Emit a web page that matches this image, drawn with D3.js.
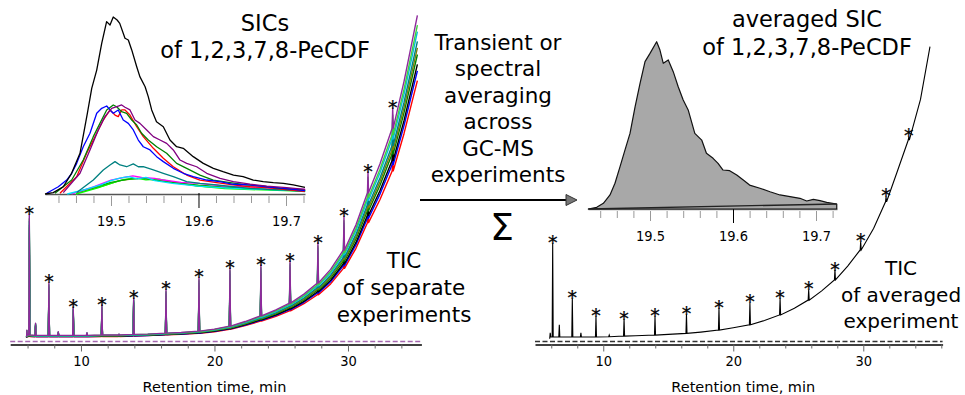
<!DOCTYPE html>
<html>
<head>
<meta charset="utf-8">
<script src="https://cdn.jsdelivr.net/npm/d3@7"></script>
<style>
  body { margin: 0; background: #fff; }
  text { font-family: "DejaVu Sans", Verdana, sans-serif; fill: #000; }
  .tick-label { font-family: "DejaVu Sans Condensed", "DejaVu Sans", sans-serif; }
</style>
</head>
<body>
<div id="chart"></div>
<script>
/* Axis ticks (minutes) */
let mainTicks = [6, 8, 10, 12, 14, 16, 18, 20, 22, 24, 26, 28, 30, 32, 34];
let mainTicksRight = [6, 8, 10, 12, 14, 16, 18, 20, 22, 24, 26, 28, 30, 32, 34, 36];
let mainTickLabels = [10, 20, 30];
let sicTicks = [19.44, 19.46, 19.48, 19.5, 19.52, 19.54, 19.56, 19.58, 19.6, 19.62, 19.64, 19.66, 19.68, 19.7, 19.72];
let sicTickLabels = [19.5, 19.6, 19.7];

/* TIC of separate experiments: baseline [t, I] and peaks [t, base, top] */
let ticBaseL = [[5.93, 1.6], [5.95, 3.6], [5.98, 2.1], [7.0, 2.0], [9.0, 2.0], [12.0, 2.1], [15.0, 2.4],
  [17.5, 2.9], [20.0, 3.9], [22.3, 6.2], [24.6, 9.7], [26.7, 14.5], [28.7, 22.0], [30.6, 35.5],
  [32.4, 54.0], [34.2, 79.0], [35.2, 99.0]];
let peaksL = [[6.13, 2.1, 38.5], [7.6, 2.0, 17.9], [9.42, 2.0, 10.6], [11.57, 2.1, 11.2],
  [13.95, 2.3, 13.3], [16.37, 2.7, 15.8], [18.84, 3.3, 19.4], [21.16, 4.8, 22.4],
  [23.48, 7.9, 23.3], [25.66, 11.8, 24.5], [27.75, 17.9, 30.0], [29.7, 27.9, 37.9],
  [31.5, 45.2, 51.5], [33.35, 64.8, 70.9]];
let minorPeaksL = [[6.6, 2.0, 5.7], [8.3, 2.0, 3.1], [10.45, 2.0, 2.8], [12.85, 2.1, 2.4]];

/* one trace per experiment, relative response */
let expColors = ["#ff0000", "#0000ff", "#000000", "#008000", "#808000", "#008080", "#00c0e0", "#40d040", "#8e2a9c"];
let expFactors = [0.80, 0.83, 0.85, 0.88, 0.90, 0.92, 0.95, 0.97, 1.0];

/* TIC of averaged experiment */
let ticBaseR = [[5.88, 1.0], [5.92, 2.8], [5.96, 1.5], [7.0, 1.5], [9.0, 1.5], [12.5, 1.9], [15.0, 2.3],
  [17.5, 3.0], [20.0, 4.3], [22.4, 6.5], [24.7, 10.2], [26.8, 15.5], [28.8, 23.0], [30.8, 34.5],
  [32.6, 51.5], [34.4, 73.5], [35.13, 89.5]];
let peaksR = [[6.11, 1.5, 29.9], [7.62, 1.5, 13.2], [9.44, 1.5, 7.7], [11.6, 1.8, 6.9],
  [13.98, 2.1, 7.7], [16.4, 2.6, 8.4], [18.9, 3.6, 10.2], [21.28, 5.2, 11.9],
  [23.6, 8.2, 13.2], [25.8, 12.7, 15.8], [27.82, 18.8, 21.8], [29.8, 27.9, 30.4],
  [31.75, 42.5, 44.0], [33.5, 61.2, 62.2]];
let minorPeaksR = [[6.62, 1.5, 5.2], [8.28, 1.5, 2.8], [10.46, 1.6, 2.1]];

/* SICs of 1,2,3,7,8-PeCDF, [t, relative intensity] */
let sicBlack = [[19.4246, 0], [19.434, 0.8], [19.4455, 4.1], [19.455, 11.7], [19.4646, 23], [19.473, 45.6],
  [19.478, 59.7], [19.4837, 70], [19.4894, 85.1], [19.495, 97.4], [19.4989, 95.5], [19.5026, 100],
  [19.507, 98.3], [19.51, 96.4], [19.516, 88], [19.5198, 87], [19.5237, 81.4], [19.5294, 71.9],
  [19.533, 66.3], [19.539, 60.6], [19.5426, 55], [19.5465, 47.5], [19.552, 40.8], [19.5598, 38],
  [19.5674, 30.5], [19.575, 26.7], [19.5826, 25.8], [19.594, 21.1], [19.6055, 17.3], [19.617, 14.5],
  [19.628, 12.6], [19.64, 10.7], [19.651, 9.8], [19.6626, 7.9], [19.674, 7], [19.6855, 6.4],
  [19.697, 6], [19.7083, 5.1], [19.7217, 3.8]];
let sicBlue = [[19.4265, 0.4], [19.4398, 4.1], [19.4494, 7.9], [19.4551, 11.7], [19.4608, 17.3],
  [19.4683, 26.7], [19.476, 34.3], [19.4837, 45.6], [19.4894, 48.4], [19.4951, 49.7], [19.4989, 47.5],
  [19.5026, 45.6], [19.5083, 47.5], [19.514, 41.8], [19.5198, 39.9], [19.5255, 36.2], [19.5312, 30.5],
  [19.5369, 26.7], [19.5446, 24.9], [19.5522, 21.1], [19.5598, 18.3], [19.5712, 14.5], [19.5826, 11.7],
  [19.594, 9.8], [19.6094, 7.9], [19.6246, 7], [19.6398, 5.5], [19.6589, 5.1], [19.6779, 4.1],
  [19.6969, 3.2], [19.7217, 1.9]];
let sicRed = [[19.4417, 0.4], [19.4608, 9.8], [19.4722, 23], [19.4837, 34.3], [19.4912, 41.8],
  [19.4989, 47.5], [19.5046, 44.6], [19.5083, 43.7], [19.5122, 47.5], [19.516, 47.5], [19.5217, 44.6],
  [19.5294, 38], [19.5369, 32.4], [19.5484, 25.8], [19.5598, 20.2], [19.5712, 15.4], [19.5865, 10.7],
  [19.6017, 7.9], [19.6208, 6.4], [19.6398, 5.1], [19.6589, 4.1], [19.6779, 3.6], [19.6969, 2.6],
  [19.7217, 1.5]];
let sicGreen = [[19.436, 0.4], [19.4551, 7.9], [19.4683, 19.2], [19.4798, 32.4], [19.4874, 39.9],
  [19.4951, 47.5], [19.5026, 50.3], [19.5065, 49.3], [19.5122, 46.5], [19.5179, 45.6], [19.5237, 41.8],
  [19.5294, 39], [19.535, 34.3], [19.5426, 30.5], [19.5522, 26.7], [19.5636, 23], [19.575, 17.3],
  [19.5865, 14.5], [19.6017, 10.7], [19.6169, 7.9], [19.636, 6.4], [19.655, 5.1], [19.674, 4.5],
  [19.6931, 3.2], [19.7217, 2.3]];
let sicPurple = [[19.4455, 0.8], [19.4646, 11.7], [19.476, 24.9], [19.4855, 36.2], [19.4931, 43.7],
  [19.5008, 48.4], [19.5083, 49.7], [19.5122, 50.3], [19.516, 49], [19.5217, 47.5], [19.5274, 41.8],
  [19.5331, 39.9], [19.5408, 36.2], [19.5484, 32.4], [19.556, 30.5], [19.5636, 28.6], [19.5712, 24.9],
  [19.5789, 19.2], [19.5865, 17.3], [19.5979, 15.4], [19.6094, 11.7], [19.6246, 8.8], [19.6398, 7],
  [19.6589, 5.6], [19.6779, 4.5], [19.7008, 3.6], [19.7217, 2.6]];
let sicTeal = [[19.4608, 0.8], [19.4798, 7.9], [19.4912, 13.6], [19.4989, 16.4], [19.5046, 18.3],
  [19.5103, 16.4], [19.5179, 15.4], [19.5255, 17], [19.5312, 15.4], [19.5369, 15.4], [19.5484, 13.6],
  [19.5598, 11.7], [19.5712, 9.8], [19.5865, 7], [19.6017, 6], [19.6208, 5.1], [19.6398, 4.1],
  [19.6589, 3.2], [19.6779, 2.6], [19.6969, 2.3], [19.7217, 1.3]];
let sicCyan = [[19.45, 0], [19.47, 2.5], [19.49, 5.5], [19.5, 7.5], [19.51, 9], [19.52, 9.8], [19.53, 8.6],
  [19.54, 9.4], [19.55, 7.5], [19.57, 6], [19.6, 4.5], [19.63, 3.5], [19.66, 2.8], [19.7, 2.2], [19.722, 1.8]];
let sicMagenta = [[19.455, 0], [19.48, 4], [19.5, 7.8], [19.515, 9.4], [19.525, 10.2], [19.535, 9.4],
  [19.55, 8.8], [19.56, 7.9], [19.58, 6.6], [19.6, 6], [19.63, 4.5], [19.66, 4], [19.69, 3.2], [19.722, 2.6]];
let sicLime = [[19.46, 0], [19.485, 3.5], [19.5, 6], [19.515, 8.2], [19.53, 8.8], [19.54, 8], [19.555, 8.4],
  [19.57, 6.8], [19.6, 4.5], [19.63, 3], [19.66, 2.5], [19.69, 2], [19.722, 1.5]];
let sicOlive = [[19.46, 0.5], [19.49, 4.5], [19.51, 7.5], [19.525, 8.5], [19.54, 9], [19.55, 8],
  [19.57, 6.5], [19.6, 4.5], [19.63, 3.6], [19.67, 2.7], [19.722, 2.2]];
let sicGreen2 = [[19.455, 0.4], [19.48, 3.6], [19.5, 6.6], [19.52, 8.4], [19.535, 9], [19.55, 7.8],
  [19.57, 6.6], [19.6, 5], [19.64, 3.6], [19.68, 2.6], [19.722, 2]];

/* averaged SIC */
let sicAvg = [[19.4257, 0], [19.4358, 1], [19.4438, 3.4], [19.4518, 8.4], [19.4578, 15.4], [19.4639, 25.3],
  [19.4699, 35.3], [19.4759, 45.2], [19.482, 61.1], [19.488, 75.1], [19.494, 88.1], [19.5, 93],
  [19.508, 100], [19.512, 95], [19.516, 87.1], [19.522, 89.1], [19.528, 82.1], [19.534, 73.1],
  [19.54, 65.2], [19.546, 59.2], [19.554, 45.2], [19.5623, 41.2], [19.568, 33.3], [19.576, 30.3],
  [19.582, 27.3], [19.588, 23.3], [19.596, 22.9], [19.6045, 20.3], [19.6124, 17.3], [19.62, 14.3],
  [19.6325, 12.4], [19.6446, 10.3], [19.6566, 8.4], [19.6687, 7.4], [19.6807, 6.4], [19.6888, 4.8],
  [19.6968, 5.8], [19.7048, 5], [19.7129, 4], [19.725, 3]];
let sicAvgBase = [[19.4257, 0], [19.725, 3]];

let width = 965;
let height = 395;

/* Scales */
let xL = d3.scaleLinear().domain([4.7, 35.5]).range([10.2, 421.4]);
let xR = d3.scaleLinear().domain([4.75, 36.1]).range([535, 942.6]);
let yT = d3.scaleLinear().domain([0, 100]).range([342, 12]);
let xSL = d3.scaleLinear().domain([19.4246, 19.7217]).range([45, 305]);
let ySL = d3.scaleLinear().domain([0, 100]).range([194, 17]);
let xSR = d3.scaleLinear().domain([19.4253, 19.7253]).range([588, 837]);
let ySR = d3.scaleLinear().domain([0, 100]).range([209, 41.7]);

let svg = d3
  .select("#chart")
  .append("svg")
  .attr("width", width)
  .attr("height", height)
  .style("background", "#fff");

/* merge baseline and peaks into one trace */
function ticPoints(base, peaks, factor) {
  let pts = base.slice();
  peaks.forEach(p => {
    pts.push([p[0] - 0.04, p[1]], [p[0], p[2]], [p[0] + 0.04, p[1]]);
  });
  pts.sort((a, b) => a[0] - b[0]);
  return pts.map(d => [d[0], d[1] * factor]);
}

/* Main axes */
function mainAxis(x, ticks, dashColor) {
  svg
    .append("line")
    .attr("x1", x.range()[0])
    .attr("x2", x.range()[1])
    .attr("y1", yT(0) - 0.5)
    .attr("y2", yT(0) - 0.5)
    .attr("stroke", dashColor)
    .attr("stroke-width", 1.6)
    .attr("stroke-dasharray", "5,2.5");

  let g = svg
    .append("g")
    .attr("transform", `translate(0, 344.5)`)
    .attr("font-family", null)
    .attr("font-size", null)
    .call(
      d3.axisBottom(x)
        .tickValues(ticks)
        .tickSize(4)
        .tickSizeOuter(0)
        .tickFormat(d => (mainTickLabels.includes(d) ? d : ""))
    );
  g.select(".domain").attr("stroke", "#000").attr("stroke-width", 1.3);
  g.selectAll(".tick line")
    .attr("stroke", "#666")
    .attr("y2", d => (mainTickLabels.includes(d) ? 7 : 4));
  g.selectAll(".tick text")
    .attr("class", "tick-label")
    .attr("fill", "#000")
    .attr("y", 11)
    .style("font-size", "14.5px");

  svg
    .append("text")
    .attr("x", (x(6) + x(34)) / 2 + (x === xR ? 10 : 0))
    .attr("y", 392)
    .attr("text-anchor", "middle")
    .style("font-size", "14.5px")
    .text("Retention time, min");
}

mainAxis(xL, mainTicks, "#a568b0");
mainAxis(xR, mainTicksRight, "#333");

/* Left TIC traces */
let ticLine = x => d3.line().x(d => x(d[0])).y(d => yT(d[1]));

svg
  .append("g")
  .selectAll("path")
  .data(expColors)
  .enter()
  .append("path")
  .attr("d", (c, i) => ticLine(xL)(ticPoints(ticBaseL, peaksL.concat(minorPeaksL), expFactors[i])))
  .attr("fill", "none")
  .attr("stroke", c => c)
  .attr("stroke-width", 1.4)
  .attr("stroke-linejoin", "round");

/* Right TIC trace */
svg
  .append("path")
  .attr("d", ticLine(xR)(ticPoints(ticBaseR, peaksR.concat(minorPeaksR), 1)))
  .attr("fill", "none")
  .attr("stroke", "#000")
  .attr("stroke-width", 1.1);

/* Asterisks */
function stars(x, peaks) {
  svg
    .append("g")
    .selectAll("text")
    .data(peaks)
    .enter()
    .append("text")
    .attr("x", d => x(d[0]))
    .attr("y", d => yT(d[2]) + 5.5)
    .attr("text-anchor", "middle")
    .attr("fill", "#000")
    .attr("stroke", "#000")
    .attr("stroke-width", 0.25)
    .style("font-size", "19px")
    .text("*");
}
stars(xL, peaksL);
stars(xR, peaksR);

/* SIC insets */
function sicAxis(x, y0, color) {
  let g = svg
    .append("g")
    .attr("transform", `translate(0, ${y0})`)
    .attr("font-family", null)
    .attr("font-size", null)
    .call(
      d3.axisBottom(x)
        .tickValues(sicTicks)
        .tickSizeOuter(0)
        .tickFormat(d => (sicTickLabels.includes(d) ? d : ""))
    );
  g.select(".domain").attr("stroke", color).attr("stroke-width", 1.5);
  g.selectAll(".tick line")
    .attr("stroke", d => (d === 19.6 ? "#000" : "#999"))
    .attr("y1", d => (d === 19.6 ? -1 : 2))
    .attr("y2", d => (d === 19.6 ? 14 : sicTickLabels.includes(d) ? 12 : 9));
  g.selectAll(".tick text")
    .attr("class", "tick-label")
    .attr("fill", "#000")
    .attr("y", 22)
    .style("font-size", "14.5px");
}

sicAxis(xSL, 194, "#555");
sicAxis(xSR, 209, "#888");

let sicSeries = [
  { values: sicOlive, color: "#808000" },
  { values: sicLime, color: "#00ff00" },
  { values: sicGreen2, color: "#00b000" },
  { values: sicMagenta, color: "#ff00ff" },
  { values: sicCyan, color: "#00e0ff" },
  { values: sicTeal, color: "#008080" },
  { values: sicRed, color: "#ff0000" },
  { values: sicGreen, color: "#008000" },
  { values: sicBlue, color: "#0000ff" },
  { values: sicPurple, color: "#800080" },
  { values: sicBlack, color: "#000000" }
];

let sicLine = d3.line().x(d => xSL(d[0])).y(d => ySL(d[1]));

svg
  .append("g")
  .selectAll("path")
  .data(sicSeries)
  .enter()
  .append("path")
  .attr("d", d => sicLine(d.values))
  .attr("fill", "none")
  .attr("stroke", d => d.color)
  .attr("stroke-width", 1.3)
  .attr("stroke-linejoin", "round");

/* averaged SIC */
let avgArea = d3.area().x(d => xSR(d[0])).y0(ySR(0)).y1(d => ySR(d[1]));
svg
  .append("path")
  .attr("d", avgArea(sicAvg))
  .attr("fill", "#a8a8a8")
  .attr("stroke", "#111")
  .attr("stroke-width", 1.2)
  .attr("stroke-linejoin", "round");

svg
  .append("path")
  .attr("d", d3.line().x(d => xSR(d[0])).y(d => ySR(d[1]))(sicAvgBase))
  .attr("stroke", "#222")
  .attr("stroke-width", 1.3)
  .attr("fill", "none");

/* Text blocks */
function textBlock(x, y0, step, lines, size) {
  svg
    .append("g")
    .selectAll("text")
    .data(lines)
    .enter()
    .append("text")
    .attr("x", x)
    .attr("y", (d, i) => y0 + i * step)
    .attr("text-anchor", "middle")
    .attr("fill", "#000")
    .style("font-size", size + "px")
    .text(d => d);
}

textBlock(265, 31, 27, ["SICs", "of 1,2,3,7,8-PeCDF"], 22.5);
textBlock(807, 27, 28, ["averaged SIC", "of 1,2,3,7,8-PeCDF"], 22.5);
textBlock(404, 268, 27, ["TIC", "of separate", "experiments"], 21.5);
textBlock(901, 275, 26.5, ["TIC", "of averaged", "experiment"], 20);
textBlock(498, 50, 26.4, ["Transient or", "spectral", "averaging", "across", "GC-MS", "experiments"], 21.5);

/* Summation arrow */
svg
  .append("line")
  .attr("x1", 420)
  .attr("x2", 567)
  .attr("y1", 200)
  .attr("y2", 200)
  .attr("stroke", "#000")
  .attr("stroke-width", 2);
svg
  .append("path")
  .attr("d", "M566,194.5 L577,200 L566,205.5 Z")
  .attr("fill", "#777")
  .attr("stroke", "#333")
  .attr("stroke-width", 1);
svg
  .append("text")
  .attr("x", 502)
  .attr("y", 240)
  .attr("text-anchor", "middle")
  .attr("fill", "#000")
  .style("font-size", "38px")
  .text("Σ");
</script>
</body>
</html>
